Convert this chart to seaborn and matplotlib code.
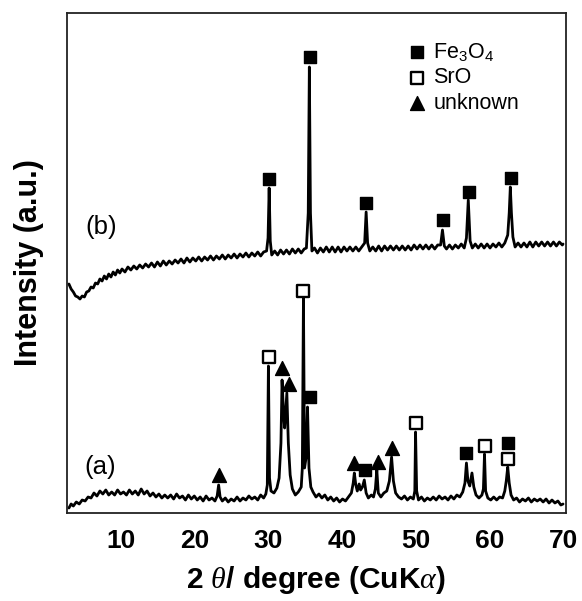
import numpy as np
import pandas as pd
import matplotlib
matplotlib.use("Agg")
import matplotlib.pyplot as plt
import seaborn as sns

# ---- data: (2theta, intensity in arbitrary units) ----
a_points = [
    (3.0, 5), (3.3, 9), (3.6, 7), (4.0, 11), (4.4, 9), (4.8, 13), (5.2, 12), (5.6, 16),
    (6.0, 15), (6.4, 20), (6.8, 17), (7.2, 22), (7.6, 19), (8.0, 23), (8.4, 18), (8.8, 21),
    (9.2, 18), (9.6, 23), (10.0, 19), (10.4, 21), (10.8, 18), (11.2, 23), (11.6, 19),
    (12.0, 22), (12.4, 18), (12.8, 24), (13.2, 19), (13.6, 22), (14.0, 17), (14.4, 20),
    (14.8, 16), (15.2, 19), (15.6, 15), (16.0, 18), (16.4, 15), (16.8, 18), (17.2, 14),
    (17.6, 19), (18.0, 15), (18.4, 17), (18.8, 13), (19.2, 18), (19.6, 14), (20.0, 17),
    (20.4, 13), (20.8, 16), (21.2, 12), (21.6, 17), (22.0, 13), (22.4, 15), (22.8, 12),
    (23.1, 17), (23.3, 28), (23.5, 16), (23.8, 12), (24.2, 15), (24.6, 11), (25.0, 14),
    (25.4, 12), (25.8, 16), (26.2, 12), (26.6, 15), (27.0, 13), (27.4, 17), (27.8, 14),
    (28.2, 16), (28.6, 13), (29.0, 18), (29.4, 15), (29.7, 19), (29.9, 28), (30.05, 147),
    (30.2, 35), (30.4, 22), (30.8, 20), (31.2, 25), (31.5, 35), (31.75, 70), (31.9, 133),
    (32.1, 100), (32.25, 85), (32.55, 120), (32.75, 70), (33.0, 38), (33.3, 24), (33.7, 18),
    (34.1, 21), (34.5, 26), (34.65, 45), (34.8, 215), (34.95, 45), (35.15, 55), (35.35, 106),
    (35.55, 45), (35.8, 26), (36.1, 21), (36.5, 16), (36.9, 19), (37.3, 15), (37.7, 18),
    (38.1, 13), (38.5, 16), (38.9, 12), (39.3, 15), (39.7, 11), (40.1, 14), (40.5, 12),
    (40.9, 16), (41.3, 20), (41.55, 30), (41.7, 40), (41.9, 28), (42.1, 22), (42.35, 29),
    (42.55, 23), (42.8, 26), (43.05, 33), (43.3, 20), (43.6, 15), (44.0, 18), (44.3, 16),
    (44.55, 24), (44.75, 43), (44.95, 20), (45.3, 16), (45.7, 20), (46.1, 22), (46.45, 32),
    (46.75, 56), (47.0, 32), (47.3, 20), (47.7, 16), (48.1, 14), (48.5, 17), (48.9, 13),
    (49.3, 16), (49.7, 14), (49.9, 22), (50.0, 81), (50.15, 22), (50.4, 13), (50.8, 16),
    (51.2, 12), (51.6, 15), (52.0, 13), (52.4, 16), (52.8, 13), (53.2, 17), (53.6, 14),
    (54.0, 16), (54.4, 13), (54.8, 17), (55.2, 14), (55.6, 18), (56.0, 16), (56.4, 21),
    (56.7, 30), (56.9, 50), (57.1, 32), (57.35, 27), (57.65, 40), (57.9, 26), (58.2, 18),
    (58.6, 15), (59.0, 18), (59.2, 24), (59.35, 59), (59.5, 22), (59.8, 15), (60.2, 13),
    (60.6, 16), (61.0, 13), (61.4, 16), (61.8, 15), (62.1, 22), (62.3, 32), (62.5, 46),
    (62.7, 30), (62.95, 18), (63.3, 13), (63.7, 15), (64.1, 11), (64.5, 14), (64.9, 12),
    (65.3, 15), (65.7, 11), (66.1, 14), (66.5, 12), (66.9, 14), (67.3, 11), (67.7, 14),
    (68.1, 10), (68.5, 13), (68.9, 10), (69.3, 12), (69.7, 8), (70.0, 9),
]
b_points = [
    (3.0, 229), (3.3, 224), (3.6, 221), (3.9, 217), (4.2, 216), (4.5, 214), (4.8, 217),
    (5.1, 216), (5.4, 221), (5.7, 222), (6.0, 226), (6.3, 225), (6.6, 230), (6.9, 229),
    (7.2, 234), (7.5, 232), (7.8, 237), (8.1, 234), (8.4, 239), (8.7, 236), (9.0, 241),
    (9.3, 238), (9.6, 243), (9.9, 240), (10.2, 244), (10.6, 241), (11.0, 246), (11.4, 243),
    (11.8, 247), (12.2, 244), (12.6, 248), (13.0, 245), (13.4, 249), (13.8, 246), (14.2, 250),
    (14.6, 246), (15.0, 251), (15.4, 247), (15.8, 252), (16.2, 248), (16.6, 252), (17.0, 249),
    (17.4, 253), (17.8, 250), (18.2, 254), (18.6, 250), (19.0, 255), (19.4, 251), (19.8, 255),
    (20.2, 252), (20.6, 256), (21.0, 252), (21.4, 256), (21.8, 253), (22.2, 257), (22.6, 253),
    (23.0, 257), (23.4, 254), (23.8, 258), (24.2, 254), (24.6, 258), (25.0, 255), (25.4, 259),
    (25.8, 255), (26.2, 259), (26.6, 256), (27.0, 260), (27.4, 256), (27.8, 260), (28.2, 257),
    (28.6, 261), (29.0, 257), (29.4, 261), (29.8, 262), (30.0, 275), (30.15, 325), (30.3, 272),
    (30.5, 258), (30.9, 262), (31.3, 258), (31.7, 263), (32.1, 259), (32.5, 263), (32.9, 259),
    (33.3, 264), (33.7, 260), (34.1, 264), (34.5, 260), (34.9, 264), (35.2, 265), (35.45, 300),
    (35.6, 446), (35.75, 300), (35.95, 262), (36.3, 265), (36.7, 260), (37.1, 265), (37.5, 261),
    (37.9, 266), (38.3, 261), (38.7, 266), (39.1, 261), (39.5, 266), (39.9, 261), (40.3, 266),
    (40.7, 262), (41.1, 266), (41.5, 262), (41.9, 266), (42.3, 262), (42.7, 266), (43.1, 270),
    (43.3, 301), (43.5, 270), (43.8, 262), (44.2, 266), (44.6, 262), (45.0, 267), (45.4, 262),
    (45.8, 267), (46.2, 263), (46.6, 267), (47.0, 263), (47.4, 267), (47.8, 263), (48.2, 267),
    (48.6, 263), (49.0, 267), (49.4, 263), (49.8, 268), (50.2, 264), (50.6, 268), (51.0, 264),
    (51.4, 268), (51.8, 264), (52.2, 268), (52.6, 264), (53.0, 268), (53.4, 268), (53.65, 283),
    (53.9, 267), (54.2, 264), (54.6, 268), (55.0, 264), (55.4, 268), (55.8, 265), (56.2, 269),
    (56.6, 265), (56.9, 275), (57.15, 313), (57.4, 272), (57.7, 265), (58.1, 269), (58.5, 265),
    (58.9, 269), (59.3, 265), (59.7, 269), (60.1, 265), (60.5, 269), (60.9, 266), (61.3, 270),
    (61.7, 266), (62.1, 270), (62.5, 278), (62.7, 300), (62.85, 326), (63.0, 300), (63.2, 276),
    (63.5, 266), (63.9, 270), (64.3, 266), (64.7, 270), (65.1, 266), (65.5, 271), (65.9, 266),
    (66.3, 271), (66.7, 267), (67.1, 271), (67.5, 267), (67.9, 271), (68.3, 267), (68.7, 271),
    (69.1, 267), (69.5, 271), (69.9, 268), (70.0, 269),
]

# peak marker positions
fe3o4_x = [30.15, 35.65, 43.3, 53.7, 57.2, 62.9, 35.65, 43.1, 56.9, 62.5]
fe3o4_y = [334, 456, 310, 293, 321, 335, 116, 43, 60, 70]
sro_x = [30.15, 34.8, 50.0, 59.35, 62.5]
sro_y = [156, 222, 90, 67, 54]
unk_x = [23.3, 31.9, 32.8, 41.7, 44.85, 46.75]
unk_y = [38, 145, 129, 50, 51, 65]

xticks = [10, 20, 30, 40, 50, 60, 70]
legend_labels = ["Fe$_3$O$_4$", "SrO", "unknown"]

# ---- styling ----
sns.set_theme(style="white")
plt.rcParams["font.family"] = ["Liberation Sans", "DejaVu Sans"]
plt.rcParams["mathtext.fontset"] = "custom"
plt.rcParams["mathtext.rm"] = "Liberation Sans"
plt.rcParams["mathtext.bf"] = "Liberation Sans:bold"
plt.rcParams["mathtext.it"] = "Liberation Serif:italic"
plt.rcParams["text.color"] = "black"
plt.rcParams["axes.labelcolor"] = "black"
plt.rcParams["xtick.color"] = "black"

fig = plt.figure(figsize=(5.82, 6.01), dpi=100)
ax = fig.add_axes([66.7 / 582, 1 - 513 / 601, (566 - 66.7) / 582, 500 / 601])

dfa = pd.DataFrame(a_points, columns=["x", "y"])
dfb = pd.DataFrame(b_points, columns=["x", "y"])
sns.lineplot(data=dfa, x="x", y="y", ax=ax, color="black", lw=2.0, sort=False)
sns.lineplot(data=dfb, x="x", y="y", ax=ax, color="black", lw=2.0, sort=False)

sns.scatterplot(x=fe3o4_x, y=fe3o4_y, ax=ax, marker="s", s=80, color="black",
                edgecolor="black", linewidth=1.0, label=legend_labels[0], zorder=5)
sns.scatterplot(x=sro_x, y=sro_y, ax=ax, marker="s", s=68, color="white",
                edgecolor="black", linewidth=1.7, label=legend_labels[1], zorder=5)
sns.scatterplot(x=unk_x, y=unk_y, ax=ax, marker="^", s=100, color="black",
                edgecolor="black", linewidth=1.0, label=legend_labels[2], zorder=5)

ax.set_xlim(2.7, 70.4)
ax.set_ylim(0, 500)
ax.set_xticks(xticks)
ax.set_xticklabels([str(t) for t in xticks], fontsize=19, fontweight="bold")
ax.set_yticks([])
ax.tick_params(axis="x", direction="in", length=8, width=1.0, pad=11.5, colors="black")
for sp in ax.spines.values():
    sp.set_color("#222222")
    sp.set_linewidth(1.3)

ax.set_xlabel(r"2 $\theta$/ degree (CuK$\alpha$)", fontsize=21.5, fontweight="bold", labelpad=8)
ax.set_ylabel("Intensity (a.u.)", fontsize=22, fontweight="bold", labelpad=16)

ax.text(7.4, 286, "(b)", fontsize=18.5, ha="center", va="center")
ax.text(7.2, 46, "(a)", fontsize=18.5, ha="center", va="center")

leg = ax.legend(loc="upper left", bbox_to_anchor=(0.65, 0.975), frameon=False,
                fontsize=15.5, handletextpad=0.25, labelspacing=0.22, borderpad=0.2,
                handlelength=1.0, markerscale=1.0)

fig.savefig("out.png", dpi=100)
